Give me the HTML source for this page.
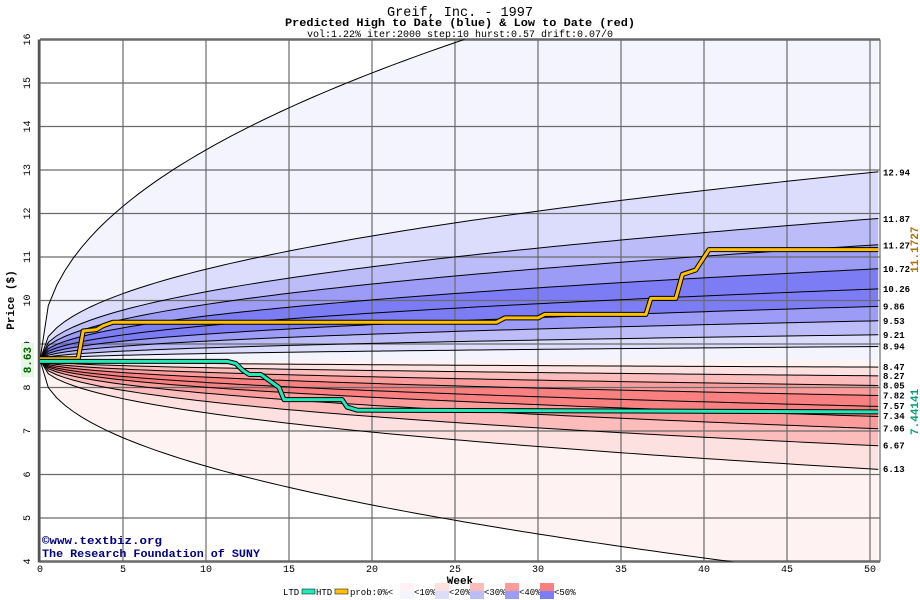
<!DOCTYPE html>
<html><head><meta charset="utf-8"><style>
body{margin:0;background:#fff;width:920px;height:600px;overflow:hidden}
svg{display:block;font-family:"Liberation Mono",monospace}
</style></head><body>
<svg id="chart" width="920" height="600" viewBox="0 0 920 600" xmlns="http://www.w3.org/2000/svg">
<text x="460" y="16" text-anchor="middle" font-size="14" textLength="146" lengthAdjust="spacingAndGlyphs" fill="#000">Greif, Inc. - 1997</text>
<text x="460" y="26" text-anchor="middle" font-size="11" font-weight="bold" textLength="350" lengthAdjust="spacingAndGlyphs" fill="#000">Predicted High to Date (blue) &amp;  Low to Date (red)</text>
<text x="460" y="37" text-anchor="middle" font-size="10" textLength="306" lengthAdjust="spacingAndGlyphs" fill="#000">vol:1.22% iter:2000 step:10 hurst:0.57 drift:0.07/0</text>
<g id="bands"></g><g id="grid"></g><g id="curves"></g><g id="series"></g><g id="axes"></g>
<text x="42" y="544" font-size="11" font-weight="bold" textLength="120" lengthAdjust="spacingAndGlyphs" fill="#000080">©www.textbiz.org</text>
<text x="42" y="557" font-size="11" font-weight="bold" textLength="218" lengthAdjust="spacingAndGlyphs" fill="#000080">The Research Foundation of SUNY</text>
<text x="460" y="584" text-anchor="middle" font-size="11" font-weight="bold">Week</text>
<text transform="translate(14,300) rotate(-90)" text-anchor="middle" font-size="11" font-weight="bold">Price ($)</text>
<g id="legend" font-size="9"></g>
</svg>
<script>
const weeks = [0, 50];
const startPrice = 8.63;
const upperEnds = [18.6, 12.94, 11.87, 11.27, 10.72, 10.26, 9.86, 9.53, 9.21, 8.94];
const lowerEnds = [8.47, 8.27, 8.05, 7.82, 7.57, 7.34, 7.06, 6.67, 6.13, 3.6];
const upperLevels = [0, 1, 2, 3, 4, 4, 3, 2, 1, 0];
const lowerLevels = [0, 1, 2, 3, 4, 4, 3, 2, 1, 0];
const htdWeeks = [0, 2.3, 2.6, 3.4, 3.8, 4.4, 27.5, 28, 30, 30.4, 36.5, 36.8, 38.3, 38.7, 39.5, 40.3, 50.5];
const htdVals = [8.66, 8.66, 9.3, 9.33, 9.42, 9.5, 9.5, 9.6, 9.6, 9.68, 9.68, 10.05, 10.05, 10.6, 10.7, 11.17, 11.17];
const ltdWeeks = [0, 11.3, 11.8, 12.2, 12.6, 13.3, 14.4, 14.7, 18.2, 18.5, 19.1, 50.5];
const ltdVals = [8.6, 8.6, 8.55, 8.4, 8.3, 8.3, 8.0, 7.72, 7.72, 7.55, 7.48, 7.44];
const rightLabels = ["12.94","11.87","11.27","10.72","10.26","9.86","9.53","9.21","8.94","8.47","8.27","8.05","7.82","7.57","7.34","7.06","6.67","6.13"];
const yTicks = [4,5,6,7,8,9,10,11,12,13,14,15,16];
const xTicks = [0,5,10,15,20,25,30,35,40,45,50];
const blues = ["#f4f4ff","#dcdcfc","#bcbcf8","#9c9cf6","#7c7cf4"];
const reds = ["#fff2f2","#fde0e0","#fcbcbc","#fa9c9c","#f88080"];

const X0=40, XR=880, PX=16.6, YT=39.5, PU=43.5;
const xs = w => X0 + w*PX;
const ys = v => YT + (16 - v)*PU;
const NS='http://www.w3.org/2000/svg';
function mk(tag, parent, attrs){const e=document.createElementNS(NS,tag);for(const k in attrs)e.setAttribute(k,attrs[k]);parent.appendChild(e);return e;}
const wEnd = 50.5, EXP=0.45;
function curveVal(end, w){return startPrice + (end-startPrice)*Math.pow(w/weeks[1],EXP);}
function curvePts(end){const p=[];for(let i=0;i<=101;i++){const w=i*wEnd/101;p.push([xs(w),ys(curveVal(end,w))]);}return p;}
const clip = mk('clipPath', document.getElementById('chart'), {id:'plotclip'});
mk('rect', clip, {x:X0,y:YT,width:XR-X0,height:ys(4)-YT});
const bandsG=document.getElementById('bands'); bandsG.setAttribute('clip-path','url(#plotclip)');
const curvesG=document.getElementById('curves'); curvesG.setAttribute('clip-path','url(#plotclip)');
mk('rect', bandsG, {x:X0,y:YT,width:XR-X0,height:ys(4)-YT,fill:'#fff'});
function band(a,b,fill,name){
  const pa=curvePts(a), pb=curvePts(b).reverse();
  const pg=mk('polygon', bandsG, {points:pa.concat(pb).map(p=>p.join(',')).join(' '),fill:fill});
  
  
}
for(let i=0;i<upperEnds.length;i++){
  const a=upperEnds[i], b = i+1<upperEnds.length?upperEnds[i+1]:startPrice;
  band(a,b,blues[upperLevels[i]],'blue-band-'+i);
}
for(let i=0;i<lowerEnds.length;i++){
  const a = i===0?startPrice:lowerEnds[i-1], b=lowerEnds[i];
  band(a,b,reds[lowerLevels[i]],'red-band-'+i);
}
// grid
const gridG=document.getElementById('grid');
yTicks.forEach(v=>{const l=mk('line',gridG,{x1:X0,x2:XR,y1:ys(v),y2:ys(v),stroke:'#6a6a6a','stroke-width':(v===16||v===4)?2.5:1.2});
});
xTicks.forEach(w=>{const l=mk('line',gridG,{x1:xs(w),x2:xs(w),y1:YT,y2:ys(4),stroke:'#6a6a6a','stroke-width':1.2});
});
const bl=mk('line',gridG,{x1:XR,x2:XR,y1:YT,y2:ys(4),stroke:'#6a6a6a','stroke-width':1.2});
const la=mk('line',gridG,{x1:X0-1,x2:X0-1,y1:YT,y2:ys(4)+1,stroke:'#555','stroke-width':2.5});
// curves
upperEnds.concat(lowerEnds).forEach((e,i)=>{const p=mk('polyline',curvesG,{points:curvePts(e).map(p=>p.join(',')).join(' '),fill:'none',stroke:'#000','stroke-width':1});
});
// series
const serG=document.getElementById('series');
function series(ws,vs,color,name){
  const pts=ws.map((w,i)=>xs(Math.min(w,wEnd))+','+ys(vs[i])).join(' ');
  const o=mk('polyline',serG,{points:pts,fill:'none',stroke:'#000','stroke-width':5,'stroke-linejoin':'round'});
  
  const p=mk('polyline',serG,{points:pts,fill:'none',stroke:color,'stroke-width':3,'stroke-linejoin':'round'});
  
}
series(htdWeeks,htdVals,'#ffc000','htd-line');
series(ltdWeeks,ltdVals,'#20e8b8','ltd-line');
// axes labels
const axG=document.getElementById('axes');
yTicks.forEach(v=>{const t=mk('text',axG,{transform:`translate(30,${ys(v)}) rotate(-90)`,'text-anchor':'middle','font-size':10});t.textContent=v;
});
xTicks.forEach(w=>{const t=mk('text',axG,{x:xs(w),y:572,'text-anchor':'middle','font-size':10});t.textContent=w;
});
const allEnds=upperEnds.slice(1).concat(lowerEnds.slice(0,-1));
allEnds.forEach((e,i)=>{const t=mk('text',axG,{x:883,y:ys(e)+3,'font-size':9,'font-weight':'bold'});t.textContent=rightLabels[i];
});
const hl=mk('text',axG,{transform:`translate(918,${ys(htdVals[htdVals.length-1])}) rotate(-90)`,'text-anchor':'middle','font-size':11,'font-weight':'bold',fill:'#b07000'});hl.textContent='11.1727';

const ll=mk('text',axG,{transform:`translate(918,${ys(ltdVals[ltdVals.length-1])}) rotate(-90)`,'text-anchor':'middle','font-size':11,'font-weight':'bold',fill:'#00a070'});ll.textContent='7.44141';

const sb=mk('rect',axG,{x:21,y:ys(startPrice)-17,width:13,height:34,fill:'#e4f8e4'});
const sl=mk('text',axG,{transform:`translate(31,${ys(startPrice)}) rotate(-90)`,'text-anchor':'middle','font-size':11,'font-weight':'bold',fill:'#006000'});sl.textContent='8.63';

// legend
const lg=document.getElementById('legend');
function ltext(s,x){const t=mk('text',lg,{x:x,y:595});t.textContent=s;}
ltext('LTD',283);
let r=mk('rect',lg,{x:302,y:589,width:13,height:5,fill:'#20e8b8',stroke:'#000','stroke-width':0.5});
ltext('HTD',316);
r=mk('rect',lg,{x:335,y:589,width:13,height:5,fill:'#ffc000',stroke:'#000','stroke-width':0.5});
ltext('prob:0%<',350);
const labs=['<10%','<20%','<30%','<40%','<50%'];
for(let i=0;i<5;i++){
  const x=400+i*35;
  let a=mk('rect',lg,{x:x,y:583,width:14,height:8,fill:reds[i]});
  a=mk('rect',lg,{x:x,y:591,width:14,height:8,fill:blues[i]});
  ltext(labs[i],x+14);
}
</script>
</body></html>
